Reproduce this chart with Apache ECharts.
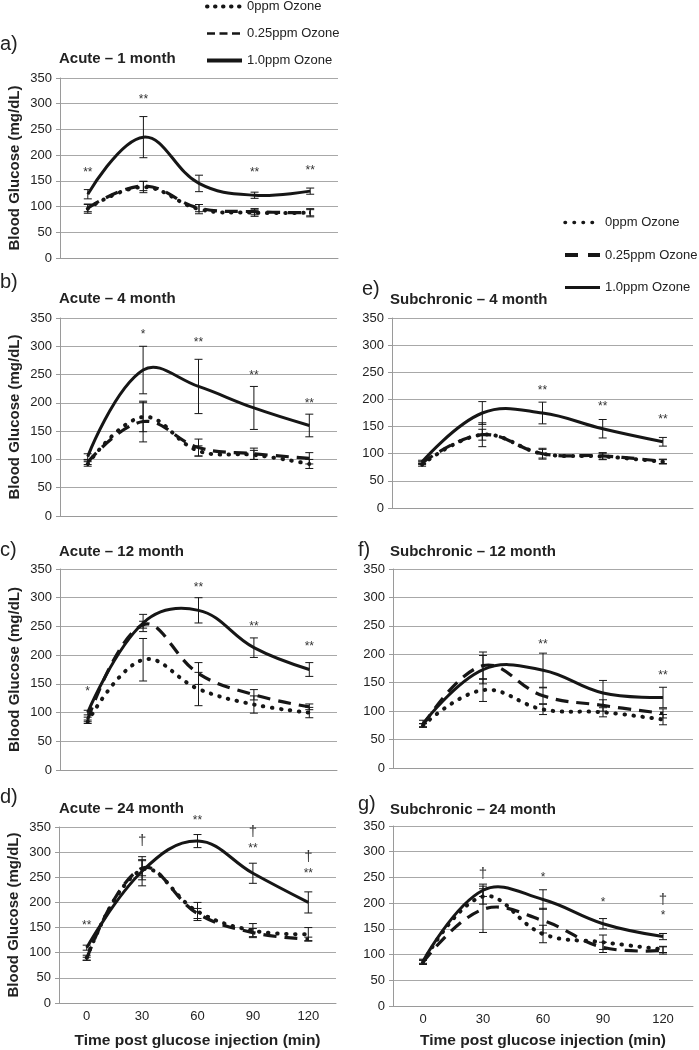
<!DOCTYPE html>
<html><head><meta charset="utf-8">
<script src="https://cdn.jsdelivr.net/npm/echarts@6/dist/echarts.min.js"></script>
<style>html,body{margin:0;padding:0;background:#fff}#c{width:699px;height:1050px}</style>
</head><body><div id="c"></div>
<script>
// ---------- DATA ----------
const categories = ['0', '30', '60', '90', '120'];
const seriesNames = ['0ppm Ozone', '0.25ppm Ozone', '1.0ppm Ozone'];
const yMin = 0, yMax = 350, yInterval = 50;

// a) Acute – 1 month
const a_0ppm = [96, 138, 95, 88, 88];
const a_0ppm_sem = [9, 11, 9, 7, 8];
const a_025ppm = [97, 140, 97, 90, 88];
const a_025ppm_sem = [7, 9, 7, 6, 6];
const a_1ppm = [124, 235, 145, 122, 130];
const a_1ppm_sem = [9, 40, 16, 6, 6];
const a_marks = [[0, 166, '**'], [1, 308, '**'], [3, 166, '**'], [4, 170, '**']];

// b) Acute – 4 month
const b_0ppm = [92, 175, 115, 108, 92];
const b_0ppm_sem = [4, 26, 9, 8, 8];
const b_025ppm = [95, 167, 121, 110, 102];
const b_025ppm_sem = [4, 36, 15, 10, 10];
const b_1ppm = [105, 258, 229, 191, 160];
const b_1ppm_sem = [5, 42, 48, 38, 20];
const b_marks = [[1, 320, '*'], [2, 307, '**'], [3, 248, '**'], [4, 199, '**']];

// c) Acute – 12 month
const c_0ppm = [84, 192, 141, 114, 100];
const c_0ppm_sem = [3, 37, 29, 15, 9];
const c_025ppm = [88, 253, 168, 131, 110];
const c_025ppm_sem = [4, 6, 19, 9, 5];
const c_1ppm = [100, 256, 278, 213, 175];
const c_1ppm_sem = [4, 15, 22, 17, 12];
const c_marks = [[0, 137, '*'], [2, 317, '**'], [3, 250, '**'], [4, 214, '**']];

// d) Acute – 24 month
const d_0ppm = [90, 265, 182, 144, 137];
const d_0ppm_sem = [5, 20, 18, 14, 13];
const d_025ppm = [88, 268, 178, 140, 127];
const d_025ppm_sem = [3, 15, 10, 8, 4];
const d_1ppm = [110, 262, 322, 258, 200];
const d_1ppm_sem = [5, 29, 13, 20, 21];
const d_marks = [[0, 154, '**'], [1, 322, '†'], [2, 363, '**'], [3, 340, '†'], [3, 306, '**'], [4, 291, '†'], [4, 257, '**']];

// e) Subchronic – 4 month
const e_0ppm = [80, 135, 100, 95, 85];
const e_0ppm_sem = [3, 22, 8, 6, 4];
const e_025ppm = [83, 135, 100, 96, 86];
const e_025ppm_sem = [3, 10, 10, 6, 4];
const e_1ppm = [85, 175, 175, 146, 122];
const e_1ppm_sem = [3, 21, 20, 17, 8];
const e_marks = [[2, 216, '**'], [3, 187, '**'], [4, 162, '**']];

// f) Subchronic – 12 month
const f_0ppm = [75, 137, 103, 98, 85];
const f_0ppm_sem = [3, 20, 9, 8, 9];
const f_025ppm = [75, 180, 127, 110, 96];
const f_025ppm_sem = [3, 24, 14, 10, 8];
const f_1ppm = [78, 173, 172, 132, 124];
const f_1ppm_sem = [6, 25, 30, 22, 18];
const f_marks = [[2, 217, '**'], [4, 163, '**']];

// g) Subchronic – 24 month
const g_0ppm = [85, 213, 140, 124, 110];
const g_0ppm_sem = [4, 15, 17, 14, 6];
const g_025ppm = [85, 188, 166, 114, 108];
const g_025ppm_sem = [4, 45, 24, 10, 7];
const g_1ppm = [87, 225, 207, 160, 135];
const g_1ppm_sem = [4, 12, 19, 10, 6];
const g_marks = [[1, 257, '†'], [2, 249, '*'], [3, 201, '*'], [4, 207, '†'], [4, 175, '*']];

// ---------- LAYOUT ----------
const FONT = '"Liberation Sans", Arial, Helvetica, sans-serif';
const INK = '#161616';
const panels = [
  {letter: 'a)', title: 'Acute – 1 month', vals: [a_0ppm, a_025ppm, a_1ppm], sems: [a_0ppm_sem, a_025ppm_sem, a_1ppm_sem], marks: a_marks,
   grid: {left: 60, top: 78, width: 278, height: 180}, yName: true, xLabels: false, letterPos: [0, 34], titlePos: [59, 51]},
  {letter: 'b)', title: 'Acute – 4 month', vals: [b_0ppm, b_025ppm, b_1ppm], sems: [b_0ppm_sem, b_025ppm_sem, b_1ppm_sem], marks: b_marks,
   grid: {left: 60, top: 318, width: 277, height: 198}, yName: true, xLabels: false, letterPos: [0, 272], titlePos: [59, 291]},
  {letter: 'c)', title: 'Acute – 12 month', vals: [c_0ppm, c_025ppm, c_1ppm], sems: [c_0ppm_sem, c_025ppm_sem, c_1ppm_sem], marks: c_marks,
   grid: {left: 60, top: 569, width: 277, height: 201}, yName: true, xLabels: false, letterPos: [0, 540], titlePos: [59, 544]},
  {letter: 'd)', title: 'Acute – 24 month', vals: [d_0ppm, d_025ppm, d_1ppm], sems: [d_0ppm_sem, d_025ppm_sem, d_1ppm_sem], marks: d_marks,
   grid: {left: 59, top: 827, width: 277, height: 178}, yName: true, xLabels: true, xGap: 30, letterPos: [0, 787], titlePos: [59, 801]},
  {letter: 'e)', title: 'Subchronic – 4 month', vals: [e_0ppm, e_025ppm, e_1ppm], sems: [e_0ppm_sem, e_025ppm_sem, e_1ppm_sem], marks: e_marks,
   grid: {left: 392, top: 318, width: 301, height: 190}, yName: false, xLabels: false, letterPos: [362, 279], titlePos: [390, 292]},
  {letter: 'f)', title: 'Subchronic – 12 month', vals: [f_0ppm, f_025ppm, f_1ppm], sems: [f_0ppm_sem, f_025ppm_sem, f_1ppm_sem], marks: f_marks,
   grid: {left: 393, top: 569, width: 300, height: 199}, yName: false, xLabels: false, letterPos: [358, 540], titlePos: [390, 544]},
  {letter: 'g)', title: 'Subchronic – 24 month', vals: [g_0ppm, g_025ppm, g_1ppm], sems: [g_0ppm_sem, g_025ppm_sem, g_1ppm_sem], marks: g_marks,
   grid: {left: 393, top: 826, width: 300, height: 182}, yName: false, xLabels: true, xGap: 27, letterPos: [358, 794], titlePos: [390, 802]}
];

// curve strokes (zrender style)
const curveStyles = [
  {stroke: INK, lineWidth: 4, lineDash: [0.5, 8.5], lineCap: 'round', fill: null},
  {stroke: INK, lineWidth: 3.2, lineDash: [13, 8], lineCap: 'butt', fill: null},
  {stroke: INK, lineWidth: 3, fill: null}
];
const SMOOTH = 0.4;

function errRender(params, api) {
  const x = api.value(0);
  const top = api.coord([x, api.value(2)]);
  const bot = api.coord([x, api.value(1)]);
  const w = 4;
  const st = {stroke: INK, lineWidth: 1};
  return {type: 'group', children: [
    {type: 'line', shape: {x1: top[0], y1: top[1], x2: bot[0], y2: bot[1]}, style: st},
    {type: 'line', shape: {x1: top[0] - w, y1: top[1], x2: top[0] + w, y2: top[1]}, style: st},
    {type: 'line', shape: {x1: bot[0] - w, y1: bot[1], x2: bot[0] + w, y2: bot[1]}, style: st}
  ]};
}

const grids = [], xAxes = [], yAxes = [], series = [], titles = [];

// legend proxies (no data drawn; only supply names for the legend)
seriesNames.forEach(n => series.push({type: 'line', name: n, xAxisIndex: 0, yAxisIndex: 0, data: [], symbol: 'none',
  lineStyle: {color: INK}, itemStyle: {color: INK}}));

panels.forEach((p, i) => {
  grids.push(Object.assign({containLabel: false}, p.grid));
  xAxes.push({
    type: 'category', gridIndex: i, data: categories, boundaryGap: true,
    axisLine: {show: true, lineStyle: {color: '#9a9a9a', width: 1}},
    axisTick: {show: false},
    axisLabel: {show: p.xLabels, fontSize: 13, color: '#222', margin: 7, fontFamily: FONT},
    name: p.xLabels ? 'Time post glucose injection (min)' : '',
    nameLocation: 'middle', nameGap: p.xGap || 25,
    nameTextStyle: {fontSize: 15.5, fontWeight: 'bold', color: '#222', fontFamily: FONT}
  });
  yAxes.push({
    type: 'value', gridIndex: i, min: yMin, max: yMax, interval: yInterval,
    axisLine: {show: true, lineStyle: {color: '#9a9a9a', width: 1}},
    axisTick: {show: true, length: 4, lineStyle: {color: '#9a9a9a'}},
    splitLine: {show: true, lineStyle: {color: '#a8a8a8', width: 1}},
    axisLabel: {fontSize: 13, color: '#222', margin: 8, fontFamily: FONT},
    name: p.yName ? 'Blood Glucose (mg/dL)' : '',
    nameLocation: 'middle', nameGap: 38,
    nameTextStyle: {fontSize: 15, fontWeight: 'bold', color: '#222', fontFamily: FONT}
  });
  p.vals.forEach((v, s) => {
    series.push({
      type: 'custom', xAxisIndex: i, yAxisIndex: i, renderItem: errRender, z: 2,
      encode: {x: 0, y: [1, 2]},
      data: v.map((val, j) => [j, val - p.sems[s][j], val + p.sems[s][j]])
    });
  });
  p.vals.forEach((v, s) => {
    series.push({
      type: 'custom', xAxisIndex: i, yAxisIndex: i, z: 3,
      encode: {x: 0, y: 1},
      data: v.map((val, j) => [j, val]),
      renderItem: (params, api) => {
        if (params.dataIndex !== 0) return null;
        const pts = v.map((val, j) => api.coord([j, val]));
        return {type: 'polyline', shape: {points: pts, smooth: SMOOTH}, style: Object.assign({}, curveStyles[s])};
      }
    });
  });
  const marks = p.marks;
  series.push({
    type: 'custom', xAxisIndex: i, yAxisIndex: i, z: 4,
    encode: {x: 0, y: 1},
    data: marks.map(m => [m[0], m[1]]),
    renderItem: (params, api) => {
      const pt = api.coord([api.value(0), api.value(1)]);
      const t = marks[params.dataIndex][2];
      return {type: 'text', x: pt[0], y: pt[1], style: {
        text: t, fill: '#333', font: (t === '†' ? '15px ' : '12px ') + FONT,
        align: 'center', verticalAlign: 'middle'}};
    }
  });
  titles.push({text: p.letter, left: p.letterPos[0], top: p.letterPos[1], padding: 0,
    textStyle: {fontSize: 20, fontWeight: 'normal', color: '#222', fontFamily: FONT}});
  titles.push({text: p.title, left: p.titlePos[0], top: p.titlePos[1], padding: 0,
    textStyle: {fontSize: 15, fontWeight: 'bold', color: '#222', fontFamily: FONT}});
});

const legendCommon = {
  orient: 'vertical', itemWidth: 35, itemHeight: 14, selectedMode: false, padding: 0,
  textStyle: {fontSize: 13, color: '#222', fontFamily: FONT}
};
const legends = [
  Object.assign({}, legendCommon, {left: 205, top: 0, itemGap: 14, data: [
    {name: seriesNames[0], itemStyle: {opacity: 0}, lineStyle: {color: INK, width: 4, type: [0.5, 7.5], cap: 'round'}},
    {name: seriesNames[1], itemStyle: {opacity: 0}, lineStyle: {color: INK, width: 2.5, type: [8, 4.5]}},
    {name: seriesNames[2], itemStyle: {opacity: 0}, lineStyle: {color: INK, width: 4, type: 'solid'}}
  ]}),
  Object.assign({}, legendCommon, {left: 563, top: 216, itemGap: 19.5, data: [
    {name: seriesNames[0], itemStyle: {opacity: 0}, lineStyle: {color: INK, width: 3.5, type: [0.5, 8.5], cap: 'round'}},
    {name: seriesNames[1], itemStyle: {opacity: 0}, lineStyle: {color: INK, width: 4, type: [13, 10]}},
    {name: seriesNames[2], itemStyle: {opacity: 0}, lineStyle: {color: INK, width: 3, type: 'solid'}}
  ]})
];

const chart = echarts.init(document.getElementById('c'), null, {renderer: 'canvas'});
chart.setOption({
  animation: false,
  backgroundColor: '#fff',
  textStyle: {fontFamily: FONT},
  title: titles,
  legend: legends,
  grid: grids,
  xAxis: xAxes,
  yAxis: yAxes,
  series: series
});
</script></body></html>
